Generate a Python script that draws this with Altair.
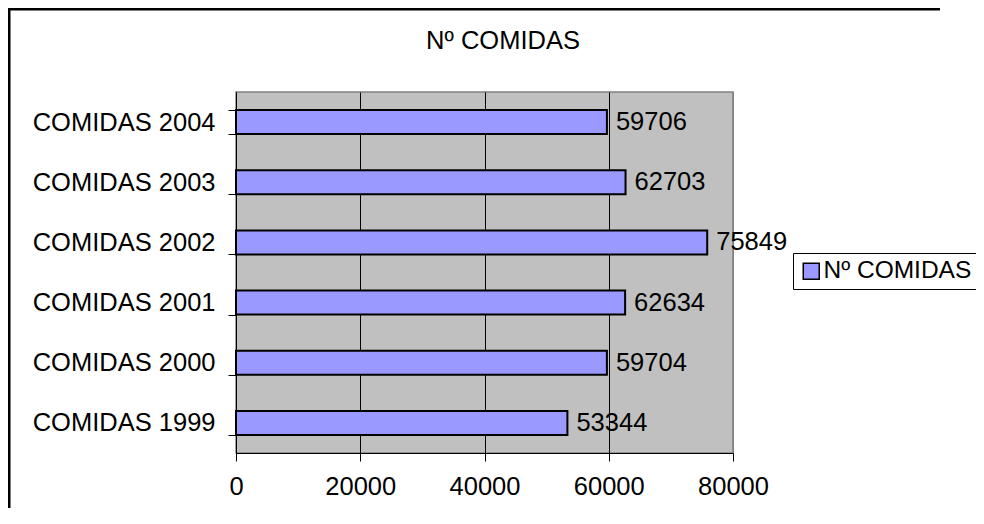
import altair as alt
import pandas as pd

categories = ["COMIDAS 1999", "COMIDAS 2000", "COMIDAS 2001", "COMIDAS 2002", "COMIDAS 2003", "COMIDAS 2004"]
values = [53344, 59704, 62634, 75849, 62703, 59706]
series_name = "Nº COMIDAS"
chart_title = "Nº COMIDAS"
x_ticks = [0, 20000, 40000, 60000, 80000]

df = pd.DataFrame({"cat": categories, "val": values, "series": [series_name] * len(categories)})
title_df = pd.DataFrame({"t": [chart_title]})

FONT = "Liberation Sans"
FS = 25.5
order = categories[::-1]

y_enc = alt.Y("cat:N", sort=order, title=None,
              scale=alt.Scale(paddingInner=0.6, paddingOuter=0.3),
              axis=alt.Axis(tickBand="extent", tickSize=8, tickColor="black", tickWidth=1,
                            domainColor="black", labelFontSize=FS, labelColor="black",
                            labelFont=FONT, labelPadding=13, grid=False, labelLimit=400))

x_enc = alt.X("val:Q", title=None,
              scale=alt.Scale(domain=[0, 80000], nice=False),
              axis=alt.Axis(values=x_ticks, format="d", tickSize=8, tickColor="black",
                            domainColor="black", labelFontSize=FS, labelColor="black",
                            labelFont=FONT, labelPadding=13, grid=True,
                            gridColor=alt.condition("datum.value >= 80000", alt.value("#808080"), alt.value("black")),
                            gridWidth=1, gridOpacity=1, labelFlush=False))

bars = alt.Chart(df).mark_bar(stroke="black", strokeWidth=2).encode(
    x=x_enc,
    y=y_enc,
    fill=alt.Fill("series:N", title=None,
                  scale=alt.Scale(range=["#9999FF"]),
                  legend=alt.Legend(orient="none", legendX=557, legendY=161,
                                    strokeColor="black", fillColor="white", padding=6,
                                    symbolType="square", symbolSize=256,
                                    symbolStrokeColor="black", symbolStrokeWidth=1.5,
                                    labelFontSize=24.5, labelFont=FONT, labelColor="black",
                                    labelOffset=0, labelLimit=400)),
)

labels = alt.Chart(df).mark_text(align="left", baseline="middle", dx=9, fontSize=FS,
                                 font=FONT, color="black").encode(
    x="val:Q",
    y=alt.Y("cat:N", sort=order),
    text="val:Q",
)

title = alt.Chart(title_df).mark_text(align="center", baseline="alphabetic", fontSize=FS,
                                      font=FONT, color="black").encode(
    x=alt.value(267), y=alt.value(-43), text="t:N"
)

frame_left = alt.Chart(title_df).mark_rect(fill="black", strokeWidth=0).encode(
    x=alt.value(-228), x2=alt.value(-225.5), y=alt.value(-84), y2=alt.value(430)
)
frame_top = alt.Chart(title_df).mark_rect(fill="black", strokeWidth=0).encode(
    x=alt.value(-228), x2=alt.value(704), y=alt.value(-84), y2=alt.value(-81.5)
)

chart = alt.layer(bars, labels, title, frame_left, frame_top).properties(
    width=497, height=361,
    autosize=alt.AutoSizeParams(type="none"),
    padding={"left": 228, "top": 84, "right": 243, "bottom": 55},
).configure(
    font=FONT, background="white"
).configure_view(
    fill="#C0C0C0", stroke="#808080", strokeWidth=1.5
)

chart.save("out.html", embed_options={"renderer": "svg", "actions": False})
